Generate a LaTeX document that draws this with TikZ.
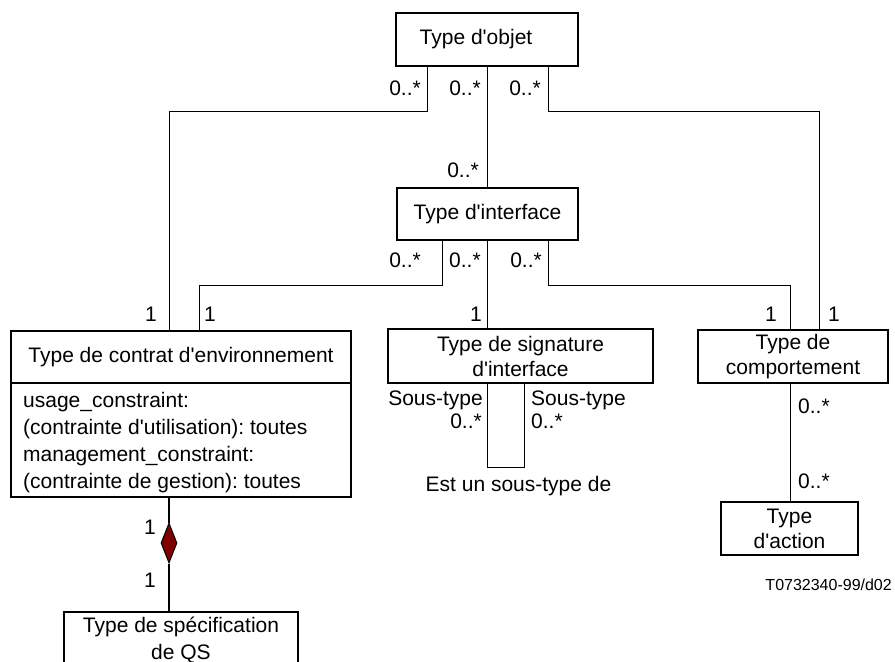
\documentclass[tikz,border=0pt]{standalone}
\usepackage{fontspec}
\setmainfont{Liberation Sans}[Ligatures=TeXOff]
\usetikzlibrary{shapes.geometric}
\definecolor{compred}{RGB}{128,0,0}
\frenchspacing
\begin{document}
\begin{tikzpicture}[x=1bp,y=-1bp,
  font=\fontsize{21bp}{25bp}\selectfont,
  box/.style={draw,line width=1.1bp,inner sep=0pt,align=center},
  link/.style={line width=1bp},
  mult/.style={inner sep=0pt},
  small/.style={inner sep=0pt,font=\fontsize{16bp}{18bp}\selectfont}]
\useasboundingbox (0,0) rectangle (895,662);

% classes
\node[box,minimum width=182bp,minimum height=53bp] (obj) at (487,39.5) {Type d'objet\hspace*{22bp}};
\node[box,minimum width=181bp,minimum height=52bp] (itf) at (487.5,214) {Type d'interface};
\node[box,minimum width=340bp,minimum height=52bp] (envh) at (181,357) {Type de contrat d'environnement};
\node[box,minimum width=340bp,minimum height=114bp] (envb) at (181,440) {};
\node[mult,anchor=base west] (ct1) at (23,407) {usage\_constraint:};
\node[mult,anchor=base west] (ct2) at (23,434) {(contrainte d'utilisation): toutes};
\node[mult,anchor=base west] (ct3) at (23,461) {management\_constraint:};
\node[mult,anchor=base west] (ct4) at (23,488) {(contrainte de gestion): toutes};
\node[box,minimum width=265bp,minimum height=54bp] (sig) at (520.5,356) {Type de signature\\d'interface};
\node[box,minimum width=190bp,minimum height=53bp] (beh) at (793,356.5) {Type de\\comportement};
\node[box,minimum width=137bp,minimum height=53bp] (act) at (789.5,528.5) {Type\\d'action};
\node[box,minimum width=234bp,minimum height=88bp] (qs) at (181,656) {};
\node[mult,anchor=base] (qs1) at (181,632) {Type de spécification};
\node[mult,anchor=base] (qs2) at (181,659) {de QS};

% routing points
\coordinate (objL) at (427,112);
\coordinate (objR) at (548,112);
\coordinate (itfL) at (442,285);
\coordinate (itfR) at (548,285);
\coordinate (envA) at (169,0);
\coordinate (envB) at (199,0);
\coordinate (behA) at (790,0);
\coordinate (behB) at (819,0);
\coordinate (loopL) at (487,467);
\coordinate (loopR) at (524,467);

% associations
\draw[link] (obj.south -| objL) -- (objL) -| (envh.north -| envA);
\draw[link] (obj.south) -- (obj.south |- itf.north);
\draw[link] (obj.south -| objR) -- (objR) -| (beh.north -| behB);
\draw[link] (itf.south -| itfL) -- (itfL) -| (envh.north -| envB);
\draw[link] (itf.south -| obj.south) -- (sig.north -| obj.south);
\draw[link] (itf.south -| itfR) -- (itfR) -| (beh.north -| behA);
\draw[link] (sig.south -| loopL) -- (loopL) -- (loopR) -- (sig.south -| loopR);
\draw[link] (beh.south -| behA) -- (act.north -| behA);

% composition
\node[diamond,draw,fill=compred,line width=1bp,inner sep=0pt,
      minimum width=16bp,minimum height=40bp] (dia) at (169,543) {};
\draw[line width=1.8bp] (envb.south -| envA) -- (dia.north);
\draw[line width=1.8bp] (dia.south) -- (qs.north -| envA);

% multiplicities
\node[mult,anchor=base east] (m1) at (421,96) {0..*};
\node[mult,anchor=base east] (m2) at (481,96) {0..*};
\node[mult,anchor=base east] (m3) at (541,96) {0..*};
\node[mult,anchor=base east] (m4) at (479,178) {0..*};
\node[mult,anchor=base east] (m5) at (421,267) {0..*};
\node[mult,anchor=base west] (m6) at (449,267) {0..*};
\node[mult,anchor=base east] (m7) at (542,267) {0..*};
\node[mult,anchor=base east] (o1) at (157,321) {1};
\node[mult,anchor=base west] (o2) at (204,321) {1};
\node[mult,anchor=base east] (o3) at (482,321) {1};
\node[mult,anchor=base east] (o4) at (777,321) {1};
\node[mult,anchor=base west] (o5) at (828,321) {1};
\node[mult,anchor=base east] (s1) at (483,405) {Sous-type};
\node[mult,anchor=base east] (s2) at (482,428) {0..*};
\node[mult,anchor=base west] (s3) at (531,405) {Sous-type};
\node[mult,anchor=base west] (s4) at (531,428) {0..*};
\node[mult,anchor=base] (isa) at (518.5,491) {Est un sous-type de};
\node[mult,anchor=base west] (b1) at (798,413) {0..*};
\node[mult,anchor=base west] (b2) at (798,488) {0..*};
\node[mult,anchor=base east] (d1) at (156,534) {1};
\node[mult,anchor=base east] (d2) at (156,587) {1};

\node[small,anchor=base east] (ref) at (892,590) {T0732340-99/d02};
\end{tikzpicture}
\end{document}
